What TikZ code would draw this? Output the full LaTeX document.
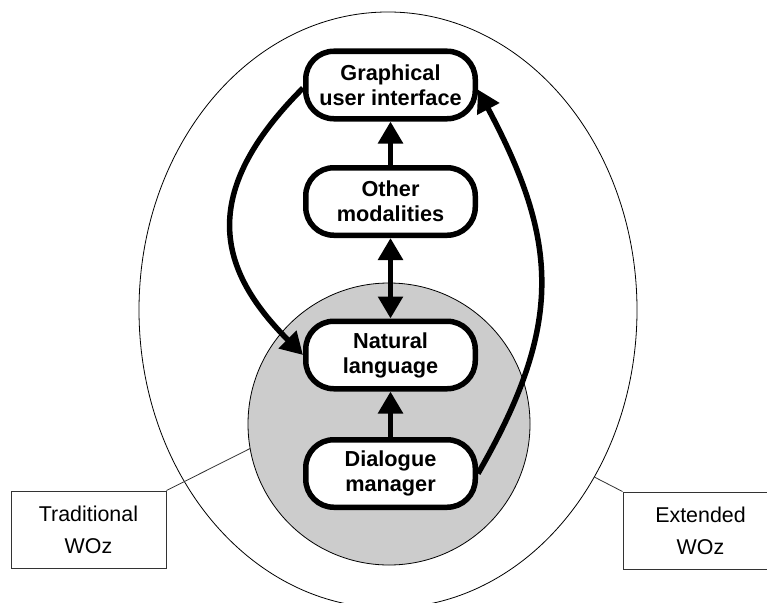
\documentclass[tikz,border=0pt]{standalone}
\usepackage{fontspec}
\setmainfont{Liberation Sans}
\usetikzlibrary{arrows.meta,shapes.geometric}
\definecolor{wozgray}{gray}{0.8}
\definecolor{labelline}{gray}{0.2}
\tikzset{
  module/.style={draw, fill=white, line width=5.5pt, rounded corners=28pt,
    minimum width=169.5pt, minimum height=67.5pt, inner sep=0pt, align=center,
    font=\fontsize{21.7}{25}\selectfont\bfseries},
  flow/.style={line width=5.5pt, -{Triangle[width=24pt,length=22pt]}},
  bothflow/.style={line width=5.5pt, {Triangle[width=24pt,length=22pt]}-{Triangle[width=24pt,length=22pt]}},
  wozlabel/.style={draw=labelline, line width=0.9pt, minimum width=155pt,
    minimum height=77pt, inner sep=0pt, align=center,
    font=\fontsize{21.4}{32}\selectfont},
  pointer/.style={draw=labelline, line width=0.8pt}
}
\begin{document}
% y grows downwards here, so polar offsets below use mirrored angles
\begin{tikzpicture}[x=1pt, y=-1pt]
  \clip (0,0) rectangle (767,602);
  \fill[white] (0,0) rectangle (767,602);

  % scopes of the two kinds of study
  \node[ellipse, draw, line width=0.8pt, minimum width=498pt, minimum height=596pt,
        inner sep=0pt, outer sep=0pt] (extended) at (388,310) {};
  \node[circle, draw, fill=wozgray, line width=0.8pt, minimum size=282pt,
        inner sep=0pt, outer sep=0pt] (traditional) at (389,424) {};

  % caption boxes and their pointers
  \node[wozlabel] (tradlabel) at (88.5,529.5) {Traditional\\WOz};
  \node[wozlabel] (extlabel) at (700.5,530.5) {Extended\\WOz};
  \draw[pointer] (tradlabel.north east) -- (traditional.190);
  \draw[pointer] (extlabel.north west) -- (extended.-39.2);

  % modules
  \node[module] (gui) at (390.5,85) {Graphical\\user interface};
  \node[module] (om)  at (390.5,201.5) {Other\\modalities};
  \node[module] (nl)  at (390.5,355) {Natural\\language};
  \node[module] (dm)  at (390.5,473.5) {Dialogue\\manager};

  % data flow between modules
  \draw[flow] (dm) -- (nl);
  \draw[bothflow] (om) -- (nl);
  \draw[flow] (om) -- (gui);
  \draw[flow] (gui.182) .. controls +(135:150) and +(225:120) .. (nl.west);
  \draw[flow] (dm.east) to[out=60, in=-62, looseness=1.15] (gui.-3);
\end{tikzpicture}
\end{document}
